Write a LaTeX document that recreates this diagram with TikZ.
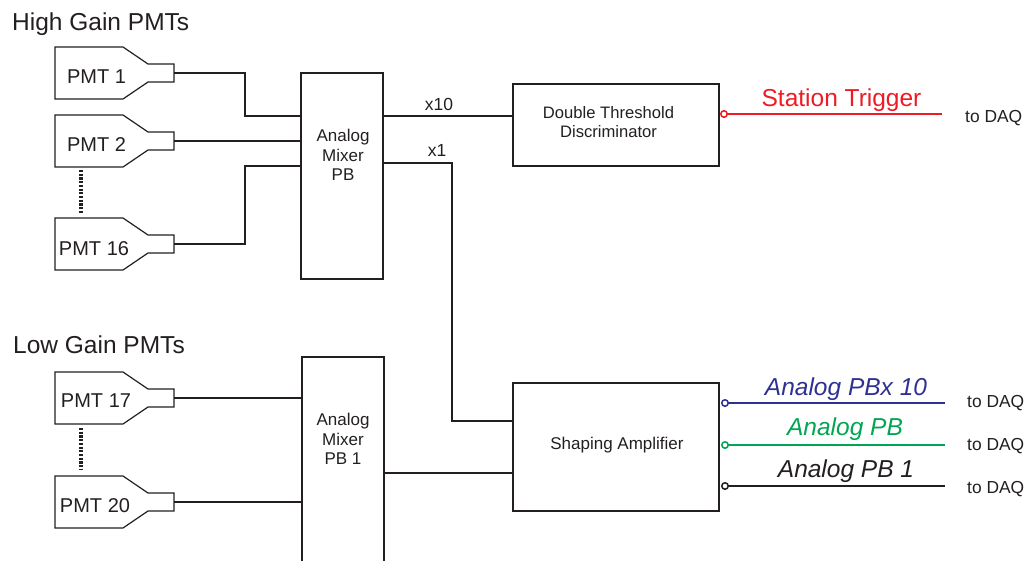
\documentclass[tikz,border=0pt]{standalone}
\usepackage{fontspec}
\setmainfont{Liberation Sans}
\definecolor{trig}{RGB}{237,28,36}
\definecolor{pbten}{RGB}{46,49,146}
\definecolor{pbgreen}{RGB}{0,166,81}
\definecolor{ink}{RGB}{35,31,32}
\begin{document}
\begin{tikzpicture}[x=1pt,y=-1pt,
  wire/.style={draw=ink, line width=1.8pt, line join=miter},
  box/.style={draw=ink, line width=1.8pt, inner sep=0pt, outer sep=0pt},
  lbl/.style={font=\fontsize{17}{19.5}\selectfont, text=ink, inner sep=0pt, align=center},
  big/.style={font=\fontsize{24.5}{28}\selectfont, text=ink, inner sep=0pt, anchor=base west},
  sig/.style={font=\fontsize{24.5}{28}\selectfont\itshape, inner sep=0pt, anchor=base},
  daq/.style={font=\fontsize{17.4}{20}\selectfont, text=ink, inner sep=0pt, anchor=base west},
  pmtlbl/.style={font=\fontsize{20}{24}\selectfont, text=ink, inner sep=0pt, anchor=base},
  dots/.style={draw=ink, line width=3.4pt, dash pattern=on 2.2pt off 1.5pt},
  outc/.style={circle, draw, line width=1.5pt, minimum size=6.5pt, inner sep=0pt, fill=white},
  pmt/.pic={
    \draw[ink, line width=1.2pt, line join=miter]
      (-40,-26) -- (28,-26) -- (53,-9) -- (79,-9) -- (79,9) -- (53,9) -- (28,26) -- (-40,26) -- cycle;
    \coordinate (-out) at (79,0);
  }
]
\useasboundingbox (0,0) rectangle (1032,560);
\clip (0,0) rectangle (1032,560);

% group titles
\node[big] (hg) at (12,30) {High Gain PMTs};
\node[big] (lg) at (13,353) {Low Gain PMTs};

% PMTs
\pic (p1) at (95,73) {pmt};
\pic (p2) at (95,141) {pmt};
\pic (p16) at (95,244) {pmt};
\pic (p17) at (95,398) {pmt};
\pic (p20) at (95,502) {pmt};
\node[pmtlbl] (t1) at (96.5,83) {PMT 1};
\node[pmtlbl] (t2) at (96.5,151) {PMT 2};
\node[pmtlbl] (t16) at (94,255) {PMT 16};
\node[pmtlbl] (t17) at (96,407) {PMT 17};
\node[pmtlbl] (t20) at (95,512) {PMT 20};

% dotted continuation marks
\coordinate (d1a) at (81,170); \coordinate (d1b) at (81,213);
\coordinate (d2a) at (81,428); \coordinate (d2b) at (81,470);
\draw[dots] (d1a) -- (d1b);
\draw[dots] (d2a) -- (d2b);

% boxes
\node[box, minimum width=82pt, minimum height=206pt] (mixA) at (342,176) {};
\node[lbl] (mixAt) at (343,155.3) {Analog\\Mixer\\PB};
\node[box, minimum width=82pt, minimum height=220pt] (mixB) at (343,467) {};
\node[lbl] (mixBt) at (343,439.3) {Analog\\Mixer\\PB 1};
\node[box, minimum width=206pt, minimum height=82pt] (disc) at (616,125) {};
\node[lbl, font=\fontsize{16.6}{19}\selectfont] (disct) at (608.5,122.5) {Double Threshold\\Discriminator};
\node[box, minimum width=206pt, minimum height=128pt] (amp) at (616,447) {};
\node[lbl] (ampt) at (617,445) {Shaping Amplifier};

% junction points on box edges
\coordinate (mA1) at (301,116);
\coordinate (mA2) at (301,141);
\coordinate (mA3) at (301,166);
\coordinate (mAx10) at (383,116);
\coordinate (mAx1) at (383,163);
\coordinate (dIn) at (513,116);
\coordinate (aIn1) at (513,421);
\coordinate (aIn2) at (513,473);
\coordinate (mB1) at (302,398);
\coordinate (mB2) at (302,502);
\coordinate (mBo) at (384,473);

% PMT wiring
\draw[wire] (p1-out) -| (245,116) -- (mA1);
\draw[wire] (p2-out) -- (mA2);
\draw[wire] (p16-out) -| (245,166) -- (mA3);
\draw[wire] (p17-out) -- (mB1);
\draw[wire] (p20-out) -- (mB2);

% mixer outputs
\draw[wire] (mAx10) -- (dIn);
\draw[wire] (mAx1) -| (452,421) -- (aIn1);
\draw[wire] (mBo) -- (aIn2);
\node[lbl, font=\fontsize{17.5}{20}\selectfont, anchor=base] (x10) at (439,110) {x10};
\node[lbl, font=\fontsize{17.5}{20}\selectfont, anchor=base] (x1) at (437,156) {x1};

% outputs
\coordinate (eT) at (942,114);
\coordinate (e1) at (945,403);
\coordinate (e2) at (945,445);
\coordinate (e3) at (945,486);
\node[outc, draw=trig] (oT) at (724,114) {};
\node[outc, draw=pbten] (o1) at (725,403) {};
\node[outc, draw=pbgreen] (o2) at (725,445) {};
\node[outc, draw=ink] (o3) at (725,486) {};
\draw[trig, line width=1.8pt] (oT.east) -- (eT);
\draw[pbten, line width=1.8pt] (o1.east) -- (e1);
\draw[pbgreen, line width=1.8pt] (o2.east) -- (e2);
\draw[ink, line width=1.8pt] (o3.east) -- (e3);

\node[sig, font=\fontsize{24.5}{28}\selectfont, text=trig] (sT) at (841.5,106) {Station Trigger};
\node[sig, text=pbten] (s1) at (846,395) {Analog PBx 10};
\node[sig, text=pbgreen] (s2) at (845,435) {Analog PB};
\node[sig, text=ink] (s3) at (846,477) {Analog PB 1};

\node[daq] (q0) at (965,122) {to DAQ};
\node[daq] (q1) at (967,407) {to DAQ};
\node[daq] (q2) at (967,450) {to DAQ};
\node[daq] (q3) at (967,493) {to DAQ};
\end{tikzpicture}
\end{document}
